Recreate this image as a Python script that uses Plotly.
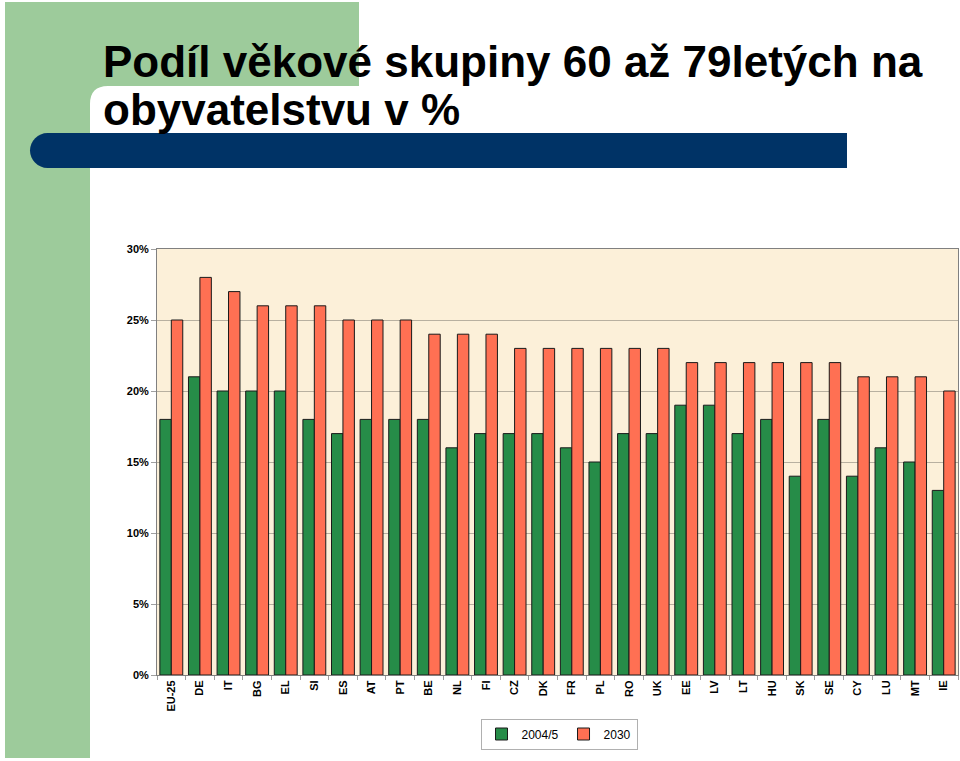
import plotly.graph_objects as go

categories = ["EU-25", "DE", "IT", "BG", "EL", "SI", "ES", "AT", "PT", "BE",
              "NL", "FI", "CZ", "DK", "FR", "PL", "RO", "UK", "EE", "LV",
              "LT", "HU", "SK", "SE", "CY", "LU", "MT", "IE"]
values_2004 = [18, 21, 20, 20, 20, 18, 17, 18, 18, 18,
               16, 17, 17, 17, 16, 15, 17, 17, 19, 19,
               17, 18, 14, 18, 14, 16, 15, 13]
values_2030 = [25, 28, 27, 26, 26, 26, 25, 25, 25, 24,
               24, 24, 23, 23, 23, 23, 23, 23, 22, 22,
               22, 22, 22, 22, 21, 21, 21, 20]
series_names = ["2004/5", "2030"]
y_ticks = [0, 5, 10, 15, 20, 25, 30]

W, H = 960, 761
L, R, T, B = 157, 958, 249, 675
PW, PH = R - L, B - T


def px(x, y):
    return (x - L) / PW, (B - y) / PH


def path(cmds):
    out = []
    for c in cmds:
        if isinstance(c, str):
            out.append(c)
        else:
            X, Y = px(*c)
            out.append(f"{X:.5f},{Y:.5f}")
    return " ".join(out)


fig = go.Figure()
fig.add_trace(go.Bar(x=categories, y=values_2004, name=series_names[0],
                     marker=dict(color="#268C48", line=dict(color="#1a1a1a", width=1))))
fig.add_trace(go.Bar(x=categories, y=values_2030, name=series_names[1],
                     marker=dict(color="#FF7053", line=dict(color="#1a1a1a", width=1))))

shapes = []
# green decoration
green = path(["M", (5, 2), "L", (359, 2), "L", (359, 86), "L", (108, 86),
              "Q", (90, 86), (90, 104), "L", (90, 758), "L", (5, 758), "Z"])
shapes.append(dict(type="path", xref="paper", yref="paper", path=green,
                   fillcolor="#9DCB9B", line=dict(width=0), layer="below"))
# blue bar
blue = path(["M", (847, 133), "L", (47.5, 133),
             "C", (38, 133), (30, 141), (30, 150.5),
             "C", (30, 160), (38, 168), (47.5, 168),
             "L", (847, 168), "Z"])
shapes.append(dict(type="path", xref="paper", yref="paper", path=blue,
                   fillcolor="#003366", line=dict(width=0), layer="below"))

title_font = dict(family="Liberation Sans, Arial", size=44, color="black", weight="bold")
annotations = []
x1, y1 = px(101, 78)
annotations.append(dict(xref="paper", yref="paper", x=x1, y=y1, xanchor="left", yanchor="bottom",
                        text="Podíl věkové skupiny 60 až 79letých na", showarrow=False,
                        font=title_font, yshift=-10))
x2, y2 = px(101, 126)
annotations.append(dict(xref="paper", yref="paper", x=x2, y=y2, xanchor="left", yanchor="bottom",
                        text="obyvatelstvu v %", showarrow=False,
                        font=title_font, yshift=-10))

lx, ly = px(559, 734)

fig.update_layout(
    width=W, height=H,
    margin=dict(l=L, r=W - R, t=T, b=H - B),
    paper_bgcolor="white",
    plot_bgcolor="#FCF0D9",
    barmode="group", bargap=0.2, bargroupgap=0,
    shapes=shapes, annotations=annotations,
    font=dict(family="Liberation Sans, Arial", color="black"),
    showlegend=True,
    legend=dict(orientation="h", x=lx, y=ly, xanchor="center", yanchor="middle",
                bordercolor="#B0B0B0", borderwidth=1, bgcolor="white",
                font=dict(size=12, color="black"), itemwidth=30),
    xaxis=dict(type="category", tickangle=-90, ticks="outside", tickson="boundaries",
               ticklen=4, tickcolor="#A0A0A0", showline=True, linecolor="#808080",
               mirror=True, showgrid=False,
               tickfont=dict(size=11, family="Liberation Sans, Arial", weight="bold")),
    yaxis=dict(range=[0, 30], tickvals=y_ticks, ticktext=[f"{v}%" for v in y_ticks],
               ticks="outside", ticklen=5, tickcolor="#A0A0A0",
               showline=True, linecolor="#808080", mirror=True,
               showgrid=True, gridcolor="#B8B0A0", gridwidth=1, zeroline=False,
               tickfont=dict(size=11, family="Liberation Sans, Arial", weight="bold")),
)

fig.write_html("out.html", config={"displayModeBar": False},
               post_script="document.body.style.margin='0';document.body.style.padding='0';")
